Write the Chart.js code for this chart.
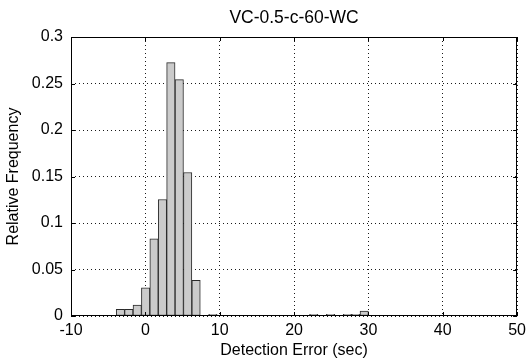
<!DOCTYPE html>
<html>
<head>
<meta charset="utf-8">
<script src="https://cdn.jsdelivr.net/npm/chart.js@4.4.1/dist/chart.umd.min.js"></script>
<style>
  html, body { margin: 0; padding: 0; background: #fff; }
  #wrap { width: 531px; height: 364px; }
</style>
</head>
<body>
<div id="wrap"><canvas id="hist"></canvas></div>
<script>
// histogram bins (centre of each bin, seconds) and relative frequency per bin
const binCenters = [
  -3.355, -2.224, -1.093, 0.038, 1.168, 2.299, 3.430, 4.561, 5.691, 6.822,
  7.953, 9.083, 10.214, 11.345, 12.476, 13.606, 14.737, 15.868, 16.999, 18.129,
  19.260, 20.391, 21.521, 22.652, 23.783, 24.914, 26.044, 27.175, 28.306, 29.437
];
const relFreq = [
  0.0072, 0.0072, 0.0118, 0.0304, 0.0830, 0.1253, 0.2724, 0.2542, 0.1543, 0.0383,
  0, 0.0018, 0, 0, 0, 0, 0, 0, 0, 0,
  0, 0, 0, 0.0018, 0, 0.0018, 0, 0.0018, 0.0018, 0.0054
];
const xTicks = [-10, 0, 10, 20, 30, 40, 50];
const yTicks = [0, 0.05, 0.1, 0.15, 0.2, 0.25, 0.3];
const yTickLabels = ['0', '0.05', '0.1', '0.15', '0.2', '0.25', '0.3'];

const FONT = "'Liberation Sans', Arial, Helvetica, sans-serif";

// box round the axes plus short inward tick marks on all four sides
const axesBox = {
  id: 'axesBox',
  afterDatasetsDraw(chart) {
    const { ctx, chartArea: a, scales: { x, y } } = chart;
    const len = 4;
    ctx.save();
    ctx.strokeStyle = '#000';
    ctx.lineWidth = 1;
    ctx.beginPath();
    x.ticks.forEach(t => {
      const px = Math.round(x.getPixelForValue(t.value)) + 0.5;
      ctx.moveTo(px, a.bottom); ctx.lineTo(px, a.bottom - len);
      ctx.moveTo(px, a.top); ctx.lineTo(px, a.top + len);
    });
    y.ticks.forEach(t => {
      const py = Math.round(y.getPixelForValue(t.value)) + 0.5;
      ctx.moveTo(a.left, py); ctx.lineTo(a.left + len, py);
      ctx.moveTo(a.right, py); ctx.lineTo(a.right - len, py);
    });
    ctx.stroke();
    ctx.strokeRect(Math.round(a.left) + 0.5, Math.round(a.top) + 0.5,
                   Math.round(a.width) - 1, Math.round(a.height) - 1);
    ctx.restore();
  }
};

new Chart(document.getElementById('hist'), {
  type: 'bar',
  data: {
    datasets: [{
      data: binCenters.map((c, i) => ({ x: c, y: relFreq[i] })),
      backgroundColor: '#cbcbcb',
      borderColor: '#2a2a2a',
      borderWidth: 1,
      borderSkipped: false,
      barPercentage: 1,
      categoryPercentage: 1
    }]
  },
  options: {
    responsive: true,
    maintainAspectRatio: false,
    animation: false,
    layout: { padding: { top: 0, right: 11, bottom: 0, left: 0 } },
    plugins: {
      legend: { display: false },
      tooltip: { enabled: false },
      title: {
        display: true,
        fullSize: false,
        text: 'VC-0.5-c-60-WC',
        color: '#000',
        font: { size: 17.5, weight: 'normal', family: FONT },
        padding: { top: 8, bottom: 8 }
      }
    },
    scales: {
      x: {
        type: 'linear',
        min: -10,
        max: 50,
        offset: false,
        afterBuildTicks: s => { s.ticks = xTicks.map(v => ({ value: v })); },
        afterFit: s => { s.height = 48; },
        grid: { offset: false, drawTicks: false, color: '#1a1a1a' },
        border: { display: false, dash: [1, 3] },
        ticks: { color: '#000', padding: 5, maxRotation: 0, font: { size: 16, family: FONT } },
        title: {
          display: true,
          text: 'Detection Error (sec)',
          color: '#000',
          font: { size: 16, family: FONT },
          padding: { top: 0, bottom: 4 }
        }
      },
      y: {
        min: 0,
        max: 0.3,
        afterBuildTicks: s => { s.ticks = yTicks.map(v => ({ value: v })); },
        afterFit: s => { s.width = 71; },
        grid: { drawTicks: false, color: '#1a1a1a' },
        border: { display: false, dash: [1, 3] },
        ticks: {
          color: '#000',
          padding: 8,
          font: { size: 16, family: FONT },
          callback: (v, i) => yTickLabels[i]
        },
        title: {
          display: true,
          text: 'Relative Frequency',
          color: '#000',
          font: { size: 16, family: FONT },
          padding: { top: 4, bottom: 0 }
        }
      }
    }
  },
  plugins: [axesBox]
});
</script>
</body>
</html>
